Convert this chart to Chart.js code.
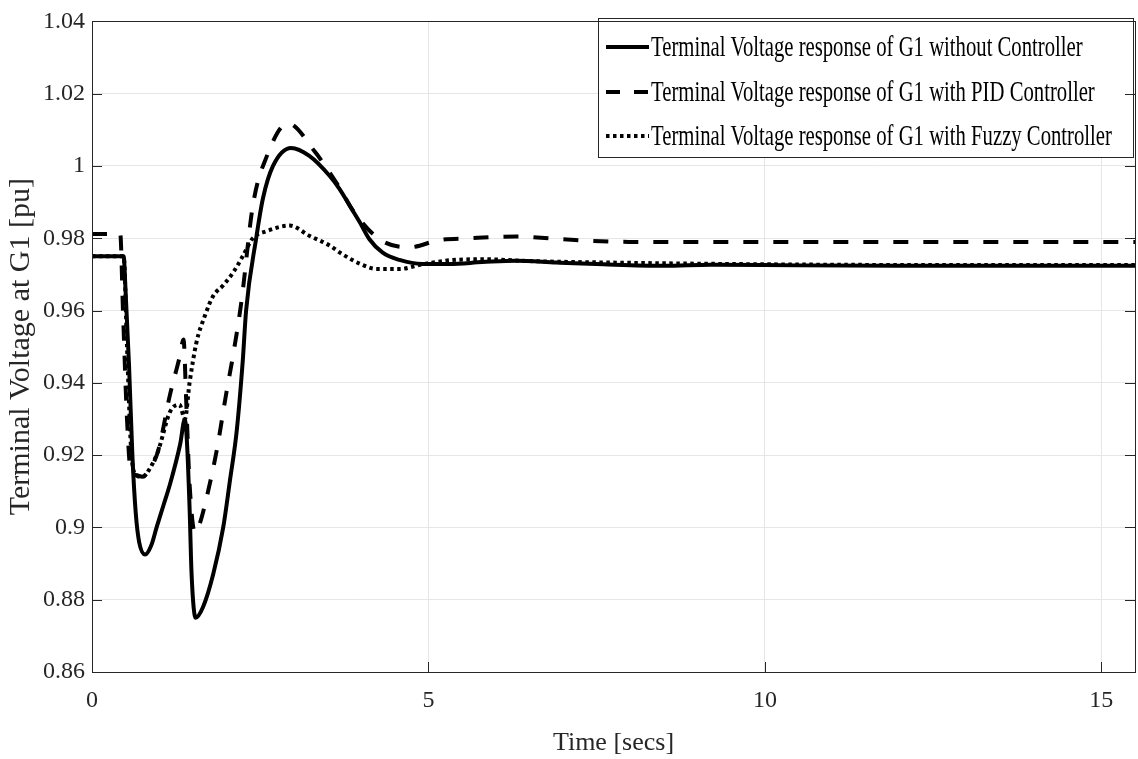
<!DOCTYPE html>
<html>
<head>
<meta charset="utf-8">
<script src="https://cdn.jsdelivr.net/npm/chart.js"></script>
<style>
  html, body { margin: 0; padding: 0; background: #fff; }
  #chart { display: block; }
</style>
</head>
<body>
<canvas id="chart" width="1138" height="759"></canvas>
<script>
// series (time in s, voltage in pu)
const timeNoCtrl = [0, 0.47, 0.50, 0.55, 0.60, 0.65, 0.70, 0.79, 0.88, 0.96, 1.06, 1.16, 1.31, 1.38, 1.41, 1.45, 1.48, 1.54, 1.65, 1.80, 1.95, 2.05, 2.15, 2.24, 2.29, 2.44, 2.54, 2.69, 2.96, 3.23, 3.53, 3.68, 3.83, 3.98, 4.12, 4.32, 4.57, 4.91, 5.31, 5.80, 6.30, 6.90, 7.60, 8.50, 9.20, 10.5, 12.0, 13.5, 15.5];
const voltNoCtrl = [0.975, 0.975, 0.965, 0.945, 0.920, 0.904, 0.896, 0.8925, 0.895, 0.900, 0.906, 0.912, 0.923, 0.930, 0.924, 0.9055, 0.887, 0.875, 0.878, 0.887, 0.900, 0.913, 0.9266, 0.946, 0.960, 0.980, 0.991, 1.000, 1.005, 1.0028, 0.9973, 0.9936, 0.989, 0.9844, 0.9798, 0.976, 0.974, 0.9729, 0.9729, 0.9734, 0.9738, 0.9733, 0.9728, 0.9724, 0.9727, 0.9725, 0.9724, 0.9724, 0.9724];

const timePid = [0, 0.42, 0.46, 0.52, 0.58, 0.65, 0.75, 0.85, 0.98, 1.16, 1.30, 1.36, 1.40, 1.45, 1.53, 1.60, 1.70, 1.85, 2.00, 2.10, 2.22, 2.39, 2.60, 2.91, 3.31, 3.63, 3.93, 4.30, 4.72, 5.16, 5.60, 6.30, 7.00, 8.00, 10.0, 12.5, 15.5];
const voltPid = [0.9812, 0.9812, 0.960, 0.930, 0.915, 0.9145, 0.914, 0.916, 0.921, 0.9368, 0.947, 0.952, 0.935, 0.912, 0.8986, 0.901, 0.908, 0.921, 0.9376, 0.948, 0.9624, 0.989, 1.0028, 1.0118, 1.004, 0.9954, 0.9863, 0.9794, 0.9775, 0.9795, 0.980, 0.9805, 0.9797, 0.979, 0.979, 0.979, 0.979];

const timeFuzzy = [0, 0.47, 0.52, 0.58, 0.65, 0.75, 0.85, 0.98, 1.16, 1.30, 1.38, 1.45, 1.55, 1.68, 1.80, 1.95, 2.10, 2.24, 2.39, 2.60, 2.94, 3.23, 3.53, 3.72, 4.00, 4.23, 4.57, 4.91, 5.31, 5.80, 6.50, 8.00, 10.0, 12.5, 15.5];
const voltFuzzy = [0.975, 0.975, 0.950, 0.922, 0.9145, 0.914, 0.916, 0.921, 0.932, 0.934, 0.930, 0.940, 0.951, 0.9587, 0.964, 0.967, 0.9706, 0.975, 0.980, 0.982, 0.9835, 0.9807, 0.978, 0.9756, 0.9728, 0.9715, 0.9715, 0.9728, 0.9739, 0.9742, 0.9737, 0.9732, 0.9728, 0.9726, 0.9726];

const seriesLabels = [
  'Terminal Voltage response of G1 without Controller',
  'Terminal Voltage response of G1 with PID Controller',
  'Terminal Voltage response of G1 with Fuzzy Controller'
];

const xTicks = [0, 5, 10, 15];
const yTicks = [0.86, 0.88, 0.9, 0.92, 0.94, 0.96, 0.98, 1, 1.02, 1.04];

function toPoints(ts, vs) {
  return ts.map((t, i) => ({ x: t, y: vs[i] }));
}

const serif = "'Liberation Serif', 'DejaVu Serif', serif";

// legend box drawn inside the plot, like the MATLAB one
const boxLegend = {
  id: 'boxLegend',
  afterDatasetsDraw(chart) {
    const ctx = chart.ctx;
    const x0 = 598, y0 = 18, w = 535, h = 139;
    ctx.save();
    ctx.fillStyle = '#fff';
    ctx.fillRect(x0, y0, w, h);
    ctx.strokeStyle = '#262626';
    ctx.lineWidth = 1;
    ctx.strokeRect(x0 + 0.5, y0 + 0.5, w, h);
    const rows = [47, 92, 136];
    chart.data.datasets.forEach((ds, i) => {
      const y = rows[i];
      ctx.strokeStyle = '#000';
      ctx.lineWidth = ds.borderWidth;
      ctx.setLineDash(ds.legendDash || []);
      ctx.beginPath();
      ctx.moveTo(606, y);
      ctx.lineTo(649, y);
      ctx.stroke();
      ctx.setLineDash([]);
      ctx.fillStyle = '#000';
      ctx.font = '30px ' + serif;
      ctx.textBaseline = 'middle';
      ctx.save();
      ctx.translate(651, y + 1);
      ctx.scale(0.69, 1);
      ctx.fillText(ds.label, 0, 0);
      ctx.restore();
    });
    ctx.restore();
  }
};

// axes frame and inward tick marks
const frame = {
  id: 'frame',
  afterDraw(chart) {
    const { ctx, chartArea: a, scales } = chart;
    ctx.save();
    ctx.strokeStyle = '#262626';
    ctx.lineWidth = 1;
    ctx.beginPath();
    yTicks.forEach(v => {
      const y = Math.round(scales.y.getPixelForValue(v)) + 0.5;
      ctx.moveTo(a.left, y); ctx.lineTo(a.left + 10, y);
      ctx.moveTo(a.right, y); ctx.lineTo(a.right - 10, y);
    });
    xTicks.forEach(v => {
      const x = Math.round(scales.x.getPixelForValue(v)) + 0.5;
      ctx.moveTo(x, a.bottom); ctx.lineTo(x, a.bottom - 10);
    });
    ctx.stroke();
    ctx.strokeRect(Math.round(a.left) + 0.5, Math.round(a.top) + 0.5,
      Math.round(a.right - a.left), Math.round(a.bottom - a.top));
    ctx.restore();
  }
};

new Chart(document.getElementById('chart'), {
  type: 'line',
  data: {
    datasets: [
      {
        label: seriesLabels[0],
        data: toPoints(timeNoCtrl, voltNoCtrl),
        borderColor: '#000',
        borderWidth: 4,
        legendDash: [],
        order: 1
      },
      {
        label: seriesLabels[1],
        data: toPoints(timePid, voltPid),
        borderColor: '#000',
        borderWidth: 4,
        borderDash: [15, 15],
        legendDash: [14, 14],
        order: 2
      },
      {
        label: seriesLabels[2],
        data: toPoints(timeFuzzy, voltFuzzy),
        borderColor: '#000',
        borderWidth: 4,
        borderDash: [3.5, 3.5],
        legendDash: [3.5, 3.5],
        order: 3
      }
    ]
  },
  options: {
    responsive: false,
    devicePixelRatio: 1,
    animation: false,
    layout: { padding: { top: 18, right: 3, left: 0, bottom: 0 } },
    elements: {
      point: { radius: 0 },
      line: { cubicInterpolationMode: 'monotone', fill: false, borderCapStyle: 'butt' }
    },
    plugins: {
      legend: { display: false },
      tooltip: { enabled: false }
    },
    scales: {
      x: {
        type: 'linear',
        min: 0,
        max: 15.5,
        afterBuildTicks(scale) {
          scale.ticks = xTicks.map(v => ({ value: v }));
        },
        afterFit(scale) { scale.height = 87; },
        grid: { color: '#e6e6e6', drawTicks: false },
        border: { color: '#262626' },
        ticks: {
          color: '#262626',
          padding: 14,
          font: { family: serif, size: 24 },
          maxRotation: 0
        },
        title: {
          display: true,
          text: 'Time [secs]',
          color: '#262626',
          font: { family: serif, size: 26 },
          padding: { top: 0, bottom: 0 }
        }
      },
      y: {
        min: 0.86,
        max: 1.04,
        afterBuildTicks(scale) {
          scale.ticks = yTicks.map(v => ({ value: v }));
        },
        afterFit(scale) { scale.width = 92; },
        grid: { color: '#e6e6e6', drawTicks: false },
        border: { color: '#262626' },
        ticks: {
          color: '#262626',
          padding: 7,
          font: { family: serif, size: 24 },
          callback: v => String(parseFloat(v.toFixed(2)))
        },
        title: {
          display: true,
          text: 'Terminal Voltage at G1 [pu]',
          color: '#262626',
          font: { family: serif, size: 30 },
          padding: { top: 3, bottom: 0 }
        }
      }
    }
  },
  plugins: [boxLegend, frame]
});
</script>
</body>
</html>
